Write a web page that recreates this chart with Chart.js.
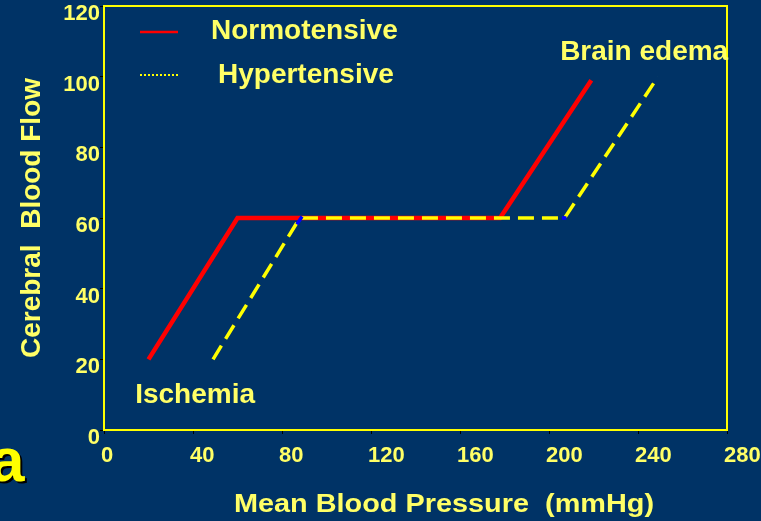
<!DOCTYPE html>
<html>
<head>
<meta charset="utf-8">
<script src="https://cdn.jsdelivr.net/npm/chart.js@4/dist/chart.umd.min.js"></script>
<style>
  html, body { margin: 0; padding: 0; background: #003366; overflow: hidden; }
  #wrap { position: relative; width: 761px; height: 521px; }
</style>
</head>
<body>
<div id="wrap"><canvas id="c" width="761" height="521"></canvas></div>
<script>
// Cerebral autoregulation: blood flow against mean blood pressure
const normotensivePressure = [20, 60, 178, 219];
const normotensiveFlow     = [20, 60, 60, 99];
const hypertensivePressure = [49, 88, 207, 249];
const hypertensiveFlow     = [20, 60, 60, 100];
// short blue pieces at the bends of the hypertensive curve (null = break)
const bendPressure = [86.7, 89, null, 205.8, 207.8];
const bendFlow     = [58.2, 60.4, null, 60, 60];

const pressureTicks = [0, 40, 80, 120, 160, 200, 240, 280];
const flowTicks     = [0, 20, 40, 60, 80, 100, 120];

const seriesNames  = ['Normotensive', 'Hypertensive'];
const regionLabels = ['Ischemia', 'Brain edema'];
const xTitle = 'Mean Blood Pressure  (mmHg)';
const yTitle = 'Cerebral  Blood Flow';
const panelLetter = 'a';

const FONT = "'Liberation Sans', Arial, Helvetica, sans-serif";
const TEXT = '#ffff66';
const AXIS = '#ffff00';
const NAVY = '#003366';

const toPoints = (xs, ys) => xs.map((x, i) => ({ x: x, y: ys[i] }));

const decorations = {
  id: 'decorations',
  beforeDraw(chart) {
    const ctx = chart.ctx;
    ctx.save();
    ctx.fillStyle = NAVY;
    ctx.fillRect(0, 0, chart.width, chart.height);
    ctx.restore();
  },
  afterDraw(chart) {
    const { ctx, chartArea: a, scales: { x, y } } = chart;
    ctx.save();

    // top and right edges of the plot frame
    ctx.strokeStyle = AXIS;
    ctx.lineWidth = 2;
    ctx.beginPath();
    ctx.moveTo(a.left, a.top);
    ctx.lineTo(a.right, a.top);
    ctx.lineTo(a.right, a.bottom);
    ctx.stroke();

    // legend drawn from the datasets
    const sets = chart.data.datasets;
    const rows = [
      { ds: sets[1], y: 32, textX: 211, base: 39, dash: [], width: 2.5 },
      { ds: sets[0], y: 75, textX: 218, base: 83, dash: [2, 2], width: 2 }
    ];
    rows.forEach(r => {
      ctx.strokeStyle = r.ds.borderColor;
      ctx.lineWidth = r.width;
      ctx.setLineDash(r.dash);
      ctx.beginPath();
      ctx.moveTo(a.left + 36, r.y);
      ctx.lineTo(a.left + 74, r.y);
      ctx.stroke();
      ctx.setLineDash([]);
      ctx.fillStyle = TEXT;
      ctx.font = 'bold 28px ' + FONT;
      ctx.textAlign = 'left';
      ctx.textBaseline = 'alphabetic';
      ctx.fillText(r.ds.label, r.textX, r.base);
    });

    // region labels
    ctx.font = 'bold 28px ' + FONT;
    ctx.fillStyle = TEXT;
    ctx.fillText(regionLabels[0], x.getPixelForValue(14), y.getPixelForValue(7.7));
    ctx.fillText(regionLabels[1], x.getPixelForValue(205), y.getPixelForValue(104.7));

    // x axis title, slightly widened
    ctx.font = 'bold 25px ' + FONT;
    const w = ctx.measureText(xTitle).width;
    ctx.save();
    ctx.translate(234, 512);
    ctx.scale(420 / w, 1);
    ctx.fillText(xTitle, 0, 0);
    ctx.restore();

    // panel letter with drop shadow
    ctx.font = 'bold 62px ' + FONT;
    ctx.fillStyle = '#000000';
    ctx.fillText(panelLetter, -8, 483);
    ctx.fillStyle = '#ffff00';
    ctx.fillText(panelLetter, -10, 481);

    ctx.restore();
  }
};

new Chart(document.getElementById('c'), {
  type: 'line',
  data: {
    datasets: [
      {
        label: seriesNames[1],
        data: toPoints(hypertensivePressure, hypertensiveFlow),
        borderColor: '#ffff00',
        borderWidth: 3.5,
        borderDash: [16, 8],
        order: 1
      },
      {
        label: seriesNames[0],
        data: toPoints(normotensivePressure, normotensiveFlow),
        borderColor: '#ff0000',
        borderWidth: 4.5,
        order: 2
      },
      {
        label: 'bends',
        data: toPoints(bendPressure, bendFlow),
        borderColor: '#0000ff',
        borderWidth: 3.5,
        order: 0
      }
    ]
  },
  options: {
    responsive: false,
    animation: false,
    events: [],
    layout: { padding: { top: 6, right: 34, left: 0, bottom: 0 } },
    elements: { point: { radius: 0 }, line: { tension: 0, capBezierPoints: false } },
    plugins: { legend: { display: false }, tooltip: { enabled: false } },
    scales: {
      x: {
        type: 'linear',
        min: pressureTicks[0],
        max: pressureTicks[pressureTicks.length - 1],
        afterBuildTicks: s => { s.ticks = pressureTicks.map(v => ({ value: v })); },
        afterFit: s => { s.height = 91; s.paddingLeft = 0; s.paddingRight = 0; },
        border: { color: AXIS, width: 2 },
        grid: { drawOnChartArea: false, drawTicks: true, tickLength: 4, color: '#000000' },
        ticks: {
          color: TEXT,
          font: { family: FONT, size: 22, weight: 'bold' },
          align: 'start',
          labelOffset: -3,
          padding: 9,
          maxRotation: 0,
          autoSkip: false
        }
      },
      y: {
        type: 'linear',
        min: flowTicks[0],
        max: flowTicks[flowTicks.length - 1],
        afterBuildTicks: s => { s.ticks = flowTicks.map(v => ({ value: v })); },
        afterFit: s => { s.width = 104; s.paddingTop = 0; s.paddingBottom = 0; },
        border: { color: AXIS, width: 2 },
        grid: { drawOnChartArea: false, drawTicks: true, tickLength: 4, color: '#000000' },
        ticks: {
          color: TEXT,
          font: { family: FONT, size: 22, weight: 'bold' },
          labelOffset: 8,
          padding: 0,
          autoSkip: false
        },
        title: {
          display: true,
          text: yTitle,
          color: TEXT,
          font: { family: FONT, size: 28, weight: 'bold' },
          padding: { top: 15, bottom: 0 }
        }
      }
    }
  },
  plugins: [decorations]
});
</script>
</body>
</html>
